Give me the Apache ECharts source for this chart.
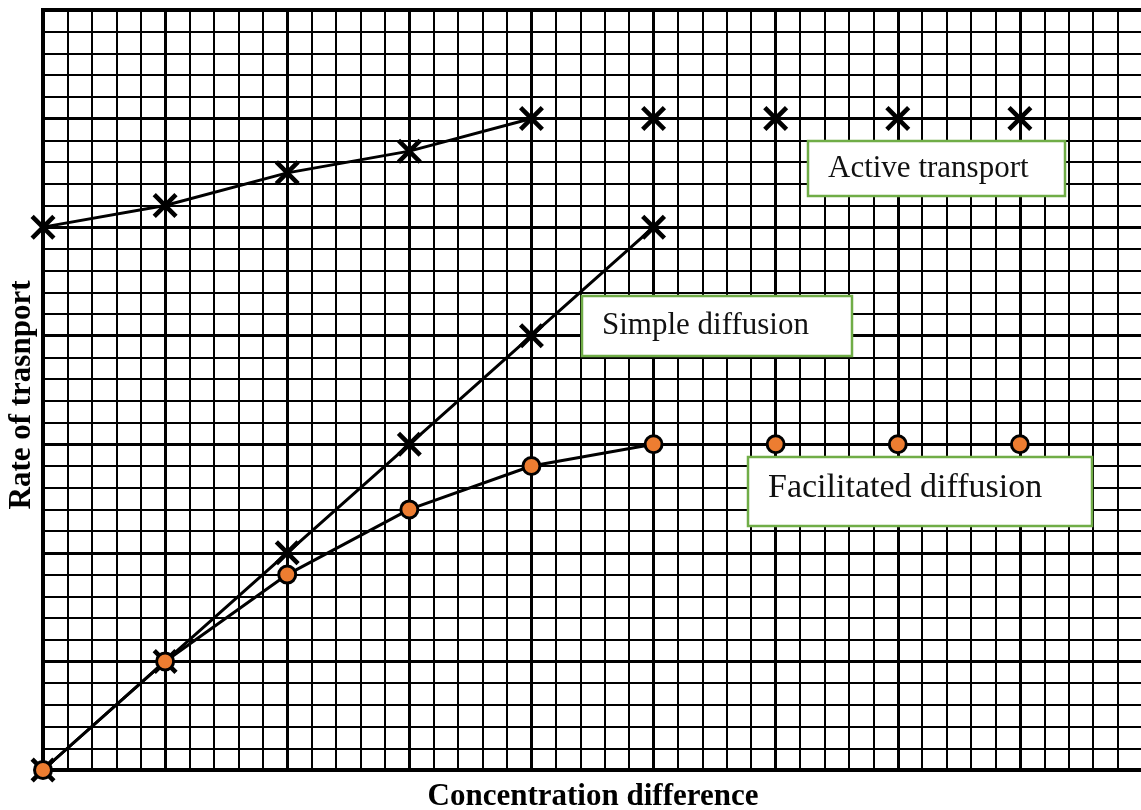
<!DOCTYPE html>
<html>
<head>
<meta charset="utf-8">
<script src="https://cdn.jsdelivr.net/npm/echarts@6/dist/echarts.min.js"></script>
<style>
html,body{margin:0;padding:0;background:#fff;}
#chart{width:1141px;height:810px;}
</style>
</head>
<body>
<div id="chart"></div>
<script>
// ---- data ----
var xValues = [0, 1, 2, 3, 4, 5, 6, 7, 8];
var activeTransport = [5, 5.2, 5.5, 5.7, 6, 6, 6, 6, 6];
var activeConnected = 5;          // first 5 points joined by a line
var simpleDiffusion = [0, 1, 2, 3, 4, 5];
var facilitatedDiffusion = [0, 1, 1.8, 2.4, 2.8, 3, 3, 3, 3];
var facilitatedConnected = 6;     // first 6 points joined by a line
var seriesNames = ['Active transport', 'Simple diffusion', 'Facilitated diffusion'];
var xAxisTitle = 'Concentration difference';
var yAxisTitle = 'Rate of trasnport';

function pairs(ys, from, to) {
  var out = [];
  for (var i = from; i < to; i++) out.push([xValues[i], ys[i]]);
  return out;
}

var crossPath = 'path://M0,13 L13,0 L50,37 L87,0 L100,13 L63,50 L100,87 L87,100 L50,63 L13,100 L0,87 L37,50 Z';

var chart = echarts.init(document.getElementById('chart'), null, {renderer: 'canvas'});

var serif = "'Liberation Serif', 'Times New Roman', serif";

function labelBox(x, y, w, h, text, fontSize, textMidY) {
  return {
    type: 'group', x: x, y: y, z: 100,
    children: [
      {type: 'rect', z: 100, shape: {x: 0, y: 0, width: w, height: h},
       style: {fill: '#fff', stroke: '#70AD47', lineWidth: 2.5}},
      {type: 'text', z: 101, x: 20, y: textMidY,
       style: {text: text, fill: '#111', font: fontSize + 'px ' + serif,
               align: 'left', verticalAlign: 'middle'}}
    ]
  };
}

var option = {
  backgroundColor: '#fff',
  animation: false,
  grid: {left: 43, top: 10, width: 1099, height: 760, outerBoundsMode: 'none', containLabel: false,
         show: false},
  xAxis: {
    type: 'value', min: 0, max: 9, interval: 1,
    axisLine: {show: true, onZero: false, lineStyle: {color: '#000', width: 4}},
    axisTick: {show: false}, axisLabel: {show: false},
    splitLine: {show: true, lineStyle: {color: '#000', width: 3}},
    minorTick: {show: false, splitNumber: 5},
    minorSplitLine: {show: true, lineStyle: {color: '#000', width: 2}}
  },
  yAxis: {
    type: 'value', min: 0, max: 7, interval: 1,
    axisLine: {show: true, onZero: false, lineStyle: {color: '#000', width: 4}},
    axisTick: {show: false}, axisLabel: {show: false},
    splitLine: {show: true, lineStyle: {color: '#000', width: 3}},
    minorTick: {show: false, splitNumber: 5},
    minorSplitLine: {show: true, lineStyle: {color: '#000', width: 2}}
  },
  graphic: [
    {type: 'line', shape: {x1: 41, y1: 10, x2: 1141, y2: 10}, style: {stroke: '#000', lineWidth: 4}, z: 50},
    labelBox(808, 141, 257, 55, seriesNames[0], 31, 28),
    labelBox(582, 296, 270, 60, seriesNames[1], 31, 30),
    labelBox(748, 457, 344, 69, seriesNames[2], 34, 31),
    {type: 'text', x: 593, y: 797, z: 100,
     style: {text: xAxisTitle, fill: '#000', font: 'bold 31px ' + serif, align: 'center', verticalAlign: 'middle'}},
    {type: 'text', x: 22, y: 395, rotation: Math.PI / 2, z: 100,
     style: {text: yAxisTitle, fill: '#000', font: 'bold 31px ' + serif, align: 'center', verticalAlign: 'middle'}}
  ],
  series: [
    {
      name: seriesNames[0], type: 'line', data: pairs(activeTransport, 0, activeConnected),
      symbol: crossPath, symbolSize: 25, showAllSymbol: true, z: 10,
      lineStyle: {color: '#000', width: 3}, itemStyle: {color: '#000', borderWidth: 0, opacity: 1}
    },
    {
      name: seriesNames[0] + ' (plateau)', type: 'scatter',
      data: pairs(activeTransport, activeConnected, activeTransport.length),
      symbol: crossPath, symbolSize: 25, z: 10, itemStyle: {color: '#000', borderWidth: 0, opacity: 1}
    },
    {
      name: seriesNames[1], type: 'line', data: pairs(simpleDiffusion, 0, simpleDiffusion.length),
      symbol: crossPath, symbolSize: 25, showAllSymbol: true, z: 11,
      lineStyle: {color: '#000', width: 3}, itemStyle: {color: '#000', borderWidth: 0, opacity: 1}
    },
    {
      name: seriesNames[2], type: 'line', data: pairs(facilitatedDiffusion, 0, facilitatedConnected),
      symbol: 'circle', symbolSize: 17, showAllSymbol: true, z: 12,
      lineStyle: {color: '#000', width: 3},
      itemStyle: {color: '#ED7D31', borderColor: '#000', borderWidth: 3, opacity: 1}
    },
    {
      name: seriesNames[2] + ' (plateau)', type: 'scatter',
      data: pairs(facilitatedDiffusion, facilitatedConnected, facilitatedDiffusion.length),
      symbol: 'circle', symbolSize: 17, z: 12,
      itemStyle: {color: '#ED7D31', borderColor: '#000', borderWidth: 3, opacity: 1}
    }
  ]
};
chart.setOption(option);
</script>
</body>
</html>
